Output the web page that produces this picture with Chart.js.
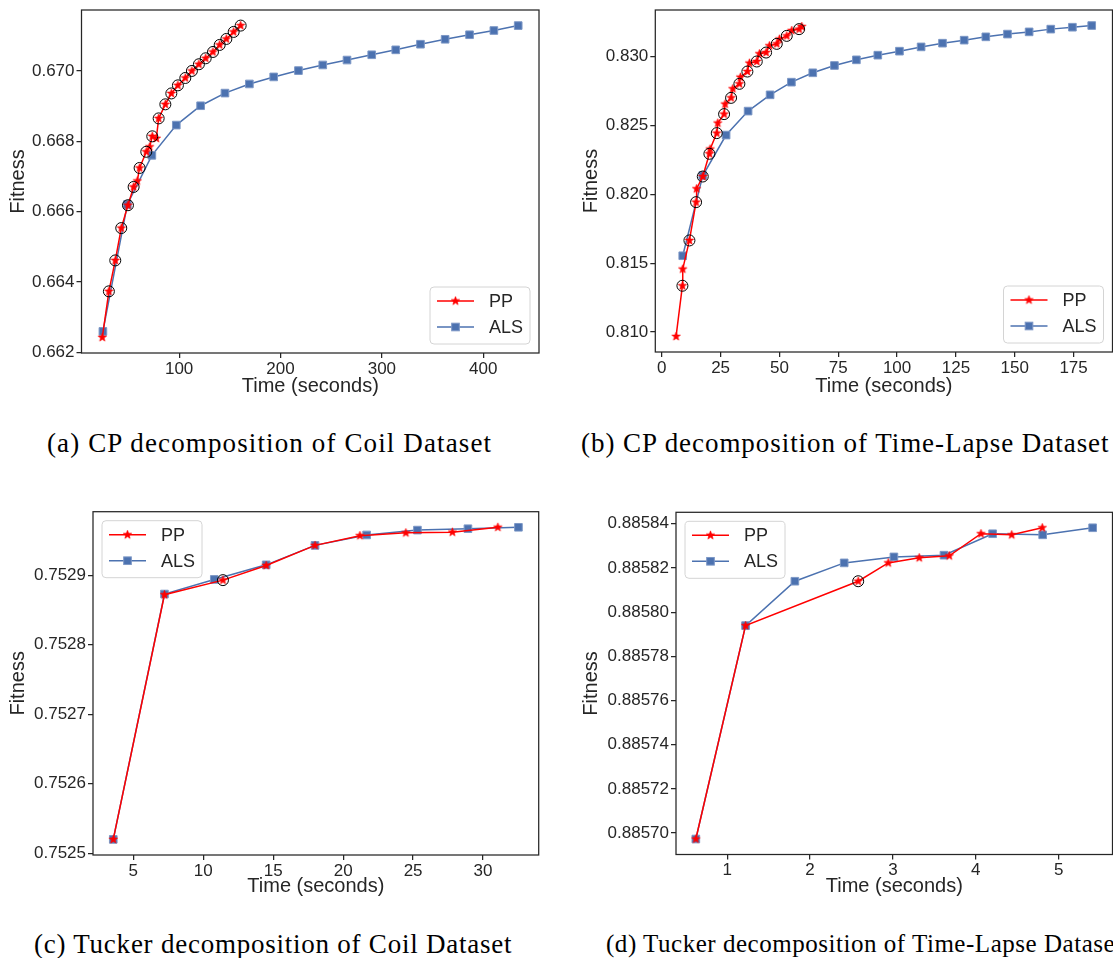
<!DOCTYPE html>
<html><head><meta charset="utf-8">
<script src="https://cdn.jsdelivr.net/npm/chart.js@4.4.1/dist/chart.umd.min.js"></script>
<style>
html,body{margin:0;padding:0;background:#fff;}
#wrap{position:relative;width:1113px;height:958px;overflow:hidden;background:#fff;}
canvas{position:absolute;}
.cap{position:absolute;font-family:"Liberation Serif","DejaVu Serif",serif;font-size:27px;line-height:30px;color:#000;white-space:nowrap;}
</style></head><body>
<div id="wrap">
<canvas id="ca" width="560" height="420" style="left:0px;top:0px"></canvas>
<canvas id="cb" width="570" height="420" style="left:560px;top:0px"></canvas>
<canvas id="cc" width="560" height="460" style="left:0px;top:460px"></canvas>
<canvas id="cd" width="570" height="460" style="left:560px;top:460px"></canvas>
<div class="cap" id="capA">(a) CP decomposition of Coil Dataset</div>
<div class="cap" id="capB">(b) CP decomposition of Time-Lapse Dataset</div>
<div class="cap" id="capC">(c) Tucker decomposition of Coil Dataset</div>
<div class="cap" id="capD">(d) Tucker decomposition of Time-Lapse Dataset</div>
</div>
<script>
// ---------------- DATA ----------------
// (a) CP decomposition, Coil
const aPPTime = [24.2, 30.7, 37.0, 42.9, 49.5, 55.1, 58.7, 61.0, 67.6, 70.9, 73.5, 77.5, 79.8, 86.4, 92.3, 98.8, 106.1, 112.6, 119.5, 126.2, 133.4, 140.0, 146.6, 153.8, 160.7];
const aPPFit  = [0.66242, 0.66373, 0.66461, 0.66553, 0.66618, 0.66670, 0.66687, 0.66724, 0.66770, 0.66784, 0.66814, 0.66808, 0.66865, 0.66905, 0.66936, 0.66959, 0.66980, 0.67000, 0.67019, 0.67036, 0.67054, 0.67074, 0.67091, 0.67111, 0.67129];
const aPPExactIdx = [1, 2, 3, 4, 5, 7, 8, 10, 12, 13, 14, 15, 16, 17, 18, 19, 20, 21, 22, 23, 24];
const aALSTime = [24.8, 48.9, 73.1, 97.2, 121.2, 145.2, 169.3, 193.3, 217.7, 241.7, 265.6, 290.0, 313.7, 338.1, 362.4, 386.5, 410.5, 434.5];
const aALSFit  = [0.66259, 0.66620, 0.66760, 0.66846, 0.66901, 0.66937, 0.66963, 0.66983, 0.67001, 0.67017, 0.67031, 0.67046, 0.67060, 0.67076, 0.67090, 0.67103, 0.67115, 0.67129];
const aXTicks = [100, 200, 300, 400];
const aXTickLabels = ["100", "200", "300", "400"];
const aYTicks = [0.662, 0.664, 0.666, 0.668, 0.670];
const aYTickLabels = ["0.662", "0.664", "0.666", "0.668", "0.670"];

// (b) CP decomposition, Time-Lapse
const bPPTime = [6.08, 8.77, 8.91, 11.75, 14.58, 14.8, 17.42, 20.24, 20.53, 23.37, 23.79, 26.48, 26.90, 29.45, 30.17, 32.98, 33.41, 36.38, 37.23, 40.37, 41.48, 44.33, 45.73, 48.87, 49.98, 53.12, 55.25, 58.35, 59.5];
const bPPFit  = [0.80968, 0.81336, 0.81457, 0.81665, 0.81943, 0.82040, 0.82129, 0.82294, 0.82328, 0.82444, 0.82517, 0.82582, 0.82655, 0.82700, 0.82766, 0.82802, 0.82850, 0.82891, 0.82952, 0.82964, 0.83020, 0.83029, 0.83078, 0.83092, 0.83126, 0.83150, 0.83189, 0.83199, 0.83218];
const bPPExactIdx = [1, 3, 4, 6, 7, 9, 11, 13, 15, 17, 19, 21, 23, 25, 27];
const bALSTime = [8.91, 17.42, 27.33, 36.68, 46.03, 55.09, 64.17, 73.37, 82.7, 91.8, 101.0, 110.2, 119.3, 128.5, 137.7, 146.9, 156.1, 165.3, 174.5, 182.7];
const bALSFit  = [0.81554, 0.82136, 0.82430, 0.82604, 0.82722, 0.82814, 0.82882, 0.82935, 0.82976, 0.83010, 0.83039, 0.83070, 0.83097, 0.83119, 0.83143, 0.83163, 0.83179, 0.83199, 0.83213, 0.83225];
const bXTicks = [0, 25, 50, 75, 100, 125, 150, 175];
const bXTickLabels = ["0", "25", "50", "75", "100", "125", "150", "175"];
const bYTicks = [0.810, 0.815, 0.820, 0.825, 0.830];
const bYTickLabels = ["0.810", "0.815", "0.820", "0.825", "0.830"];

// (c) Tucker decomposition, Coil
const cPPTime = [3.57, 7.23, 11.41, 14.50, 17.99, 21.20, 24.48, 27.81, 31.06];
const cPPFit  = [0.752520, 0.752872, 0.752893, 0.752914, 0.752943, 0.752957, 0.752961, 0.752962, 0.752969];
const cPPExactIdx = [2];
const cALSTime = [3.57, 7.23, 10.79, 14.50, 17.99, 21.68, 25.31, 28.92, 32.53];
const cALSFit  = [0.752520, 0.752873, 0.752894, 0.752915, 0.752943, 0.752958, 0.752965, 0.752967, 0.752969];
const cXTicks = [5, 10, 15, 20, 25, 30];
const cXTickLabels = ["5", "10", "15", "20", "25", "30"];
const cYTicks = [0.7525, 0.7526, 0.7527, 0.7528, 0.7529];
const cYTickLabels = ["0.7525", "0.7526", "0.7527", "0.7528", "0.7529"];

// (d) Tucker decomposition, Time-Lapse
const dPPTime = [0.622, 1.222, 2.581, 2.943, 3.317, 3.680, 4.062, 4.433, 4.802];
const dPPFit  = [0.8856973, 0.8857939, 0.8858140, 0.8858223, 0.8858246, 0.8858255, 0.8858355, 0.8858350, 0.8858382];
const dPPExactIdx = [2];
const dALSTime = [0.622, 1.222, 1.817, 2.412, 3.012, 3.616, 4.203, 4.807, 5.410];
const dALSFit  = [0.8856973, 0.8857939, 0.8858140, 0.8858223, 0.8858250, 0.8858258, 0.8858355, 0.8858350, 0.8858382];
const dXTicks = [1, 2, 3, 4, 5];
const dXTickLabels = ["1", "2", "3", "4", "5"];
const dYTicks = [0.88570, 0.88572, 0.88574, 0.88576, 0.88578, 0.88580, 0.88582, 0.88584];
const dYTickLabels = ["0.88570", "0.88572", "0.88574", "0.88576", "0.88578", "0.88580", "0.88582", "0.88584"];

// ---------------- STYLE ----------------
const FONT = '"Liberation Sans", Arial, Helvetica, sans-serif';
const TXT = '#262626';
const RED = '#ff0000';
const BLUE = '#4c72b0';
const BLUE_EDGE = '#7d98c6';
Chart.defaults.font.family = FONT;

function starImg(r, color) {
  const s = Math.ceil(r * 2 + 2);
  const c = document.createElement('canvas');
  c.width = s; c.height = s;
  const g = c.getContext('2d');
  g.fillStyle = color; g.strokeStyle = color; g.lineWidth = 0.6;
  g.beginPath();
  const cx = s / 2, cy = s / 2, ri = r * 0.42;
  for (let k = 0; k < 10; k++) {
    const ang = -Math.PI / 2 + k * Math.PI / 5;
    const rr = (k % 2) ? ri : r;
    g.lineTo(cx + rr * Math.cos(ang), cy + rr * Math.sin(ang));
  }
  g.closePath(); g.fill(); g.stroke();
  return c;
}
const STAR = starImg(4.5, RED);

const framePlugin = {
  id: 'frame',
  afterDatasetsDraw(chart) {
    const ctx = chart.ctx, a = chart.chartArea;
    ctx.save();
    ctx.strokeStyle = TXT; ctx.lineWidth = 1.25;
    ctx.strokeRect(a.left, a.top, a.right - a.left, a.bottom - a.top);
    ctx.restore();
  }
};

const boxLegend = {
  id: 'boxLegend',
  afterDraw(chart, args, o) {
    const ctx = chart.ctx, a = chart.chartArea;
    const w = o.w, h = o.h;
    const x = o.corner === 'lr' ? a.right - o.inset - w : a.left + o.inset;
    const y = o.corner === 'lr' ? a.bottom - o.inset - h : a.top + o.inset;
    ctx.save();
    ctx.beginPath();
    ctx.roundRect(x, y, w, h, 4);
    ctx.fillStyle = 'rgba(255,255,255,0.85)'; ctx.fill();
    ctx.strokeStyle = '#d4d4d4'; ctx.lineWidth = 1; ctx.stroke();
    const items = chart.data.datasets.filter(d => !d.hideInLegend);
    items.forEach((d, i) => {
      const ry = y + 14 + i * 26;
      ctx.beginPath();
      ctx.strokeStyle = d.borderColor; ctx.lineWidth = d.borderWidth;
      ctx.moveTo(x + 7, ry); ctx.lineTo(x + 44, ry); ctx.stroke();
      const mx = x + 25.5;
      if (d.pointStyle === 'rect') {
        const s = d.pointRadius * Math.SQRT1_2;
        ctx.fillStyle = d.pointBackgroundColor;
        ctx.fillRect(mx - s, ry - s, 2 * s, 2 * s);
        ctx.strokeStyle = d.pointBorderColor; ctx.lineWidth = 1;
        ctx.strokeRect(mx - s, ry - s, 2 * s, 2 * s);
      } else {
        ctx.drawImage(d.pointStyle, mx - d.pointStyle.width / 2, ry - d.pointStyle.height / 2);
      }
      ctx.fillStyle = TXT;
      ctx.font = '18px ' + FONT;
      ctx.textBaseline = 'middle'; ctx.textAlign = 'left';
      ctx.fillText(d.label, x + 59, ry + 1);
    });
    ctx.restore();
  }
};

function makePanel(id, P) {
  const ppPts = P.ppTime.map((t, i) => ({ x: t, y: P.ppFit[i] }));
  const alsPts = P.alsTime.map((t, i) => ({ x: t, y: P.alsFit[i] }));
  const exactPts = P.exactIdx.map(i => ({ x: P.ppTime[i], y: P.ppFit[i] }));
  new Chart(document.getElementById(id), {
    type: 'scatter',
    data: {
      datasets: [
        { label: 'PP', data: ppPts, showLine: true, borderColor: RED, backgroundColor: RED, borderWidth: 1.5,
          pointStyle: STAR, pointRadius: 5, order: 1 },
        { label: 'ALS', data: alsPts, showLine: true, borderColor: BLUE, backgroundColor: BLUE, borderWidth: 1.5,
          pointStyle: 'rect', pointRadius: 5.4, pointBackgroundColor: BLUE, pointBorderColor: BLUE_EDGE, pointBorderWidth: 1, order: 2 },
        { label: 'exact', data: exactPts, showLine: false, pointStyle: 'circle', pointRadius: 5.5,
          pointBackgroundColor: 'rgba(0,0,0,0)', pointBorderColor: '#000', pointBorderWidth: 1, order: 0, hideInLegend: true }
      ]
    },
    options: {
      responsive: false, animation: false, events: [],
      layout: { padding: { top: P.padTop, right: P.padRight, left: 0, bottom: 0 } },
      plugins: {
        legend: { display: false }, tooltip: { enabled: false },
        boxLegend: { corner: P.legendCorner, inset: 9, w: 100, h: 57 }
      },
      scales: {
        x: {
          type: 'linear', min: P.xMin, max: P.xMax,
          afterBuildTicks: s => { s.ticks = P.xTicks.map(v => ({ value: v })); },
          afterFit: s => { s.height = P.xAxisH; s.paddingLeft = 0; s.paddingRight = 0; },
          ticks: { callback: (v, i) => P.xLabels[i], font: { size: 17 }, color: TXT, padding: 1, maxRotation: 0, autoSkip: false },
          grid: { drawOnChartArea: false, tickLength: 5, color: TXT, lineWidth: 1.25 },
          border: { display: false },
          title: { display: true, text: 'Time (seconds)', font: { size: 20 }, color: TXT, padding: { top: 0, bottom: 22 } }
        },
        y: {
          type: 'linear', min: P.yMin, max: P.yMax,
          afterBuildTicks: s => { s.ticks = P.yTicks.map(v => ({ value: v })); },
          afterFit: s => { s.width = P.yAxisW; s.paddingTop = 0; s.paddingBottom = 0; },
          ticks: { callback: (v, i) => P.yLabels[i], font: { size: 17 }, color: TXT, padding: 2, autoSkip: false },
          grid: { drawOnChartArea: false, tickLength: 5, color: TXT, lineWidth: 1.25 },
          border: { display: false },
          title: { display: true, text: 'Fitness', font: { size: 20 }, color: TXT, padding: { top: P.yTitlePad, bottom: 0 } }
        }
      }
    },
    plugins: [framePlugin, boxLegend]
  });
}

makePanel('ca', {
  ppTime: aPPTime, ppFit: aPPFit, exactIdx: aPPExactIdx, alsTime: aALSTime, alsFit: aALSFit,
  xTicks: aXTicks, xLabels: aXTickLabels, yTicks: aYTicks, yLabels: aYTickLabels,
  xMin: 3.685, xMax: 455.015, yMin: 0.6619765, yMax: 0.6717335,
  padTop: 10, padRight: 21, yAxisW: 81.5, xAxisH: 67, yTitlePad: 6, legendCorner: 'lr'
});
makePanel('cb', {
  ppTime: bPPTime, ppFit: bPPFit, exactIdx: bPPExactIdx, alsTime: bALSTime, alsFit: bALSFit,
  xTicks: bXTicks, xLabels: bXTickLabels, yTicks: bYTicks, yLabels: bYTickLabels,
  xMin: -2.751, xMax: 191.531, yMin: 0.8085515, yMax: 0.8333785,
  padTop: 10, padRight: 17.5, yAxisW: 95.3, xAxisH: 68, yTitlePad: 19, legendCorner: 'lr'
});
makePanel('cc', {
  ppTime: cPPTime, ppFit: cPPFit, exactIdx: cPPExactIdx, alsTime: cALSTime, alsFit: cALSFit,
  xTicks: cXTicks, xLabels: cXTickLabels, yTicks: cYTicks, yLabels: cYTickLabels,
  xMin: 2.122, xMax: 33.978, yMin: 0.75249755, yMax: 0.75299145,
  padTop: 51.7, padRight: 21.3, yAxisW: 93, xAxisH: 65, yTitlePad: 6, legendCorner: 'ul'
});
makePanel('cd', {
  ppTime: dPPTime, ppFit: dPPFit, exactIdx: dPPExactIdx, alsTime: dALSTime, alsFit: dALSFit,
  xTicks: dXTicks, xLabels: dXTickLabels, yTicks: dYTicks, yLabels: dYTickLabels,
  xMin: 0.3826, xMax: 5.6494, yMin: 0.8856903, yMax: 0.8858452,
  padTop: 52.3, padRight: 17.5, yAxisW: 116, xAxisH: 65.5, yTitlePad: 19, legendCorner: 'ul'
});

// captions: fit to measured widths
function placeCaption(id, left, width, cy, size) {
  const el = document.getElementById(id);
  const mc = document.createElement('canvas').getContext('2d');
  mc.font = size + 'px "Liberation Serif"';
  const txt = el.textContent;
  const w = mc.measureText(txt).width;
  const ls = (width - w) / (txt.length - 1);
  el.style.fontSize = size + 'px';
  el.style.letterSpacing = ls.toFixed(3) + 'px';
  el.style.left = left + 'px';
  el.style.top = (cy - 15) + 'px';
}
placeCaption('capA', 47, 445, 443, 27);
placeCaption('capB', 581, 529, 443, 27);
placeCaption('capC', 34, 478, 944, 27);
placeCaption('capD', 606, 517, 944, 25);
</script>
</body></html>
